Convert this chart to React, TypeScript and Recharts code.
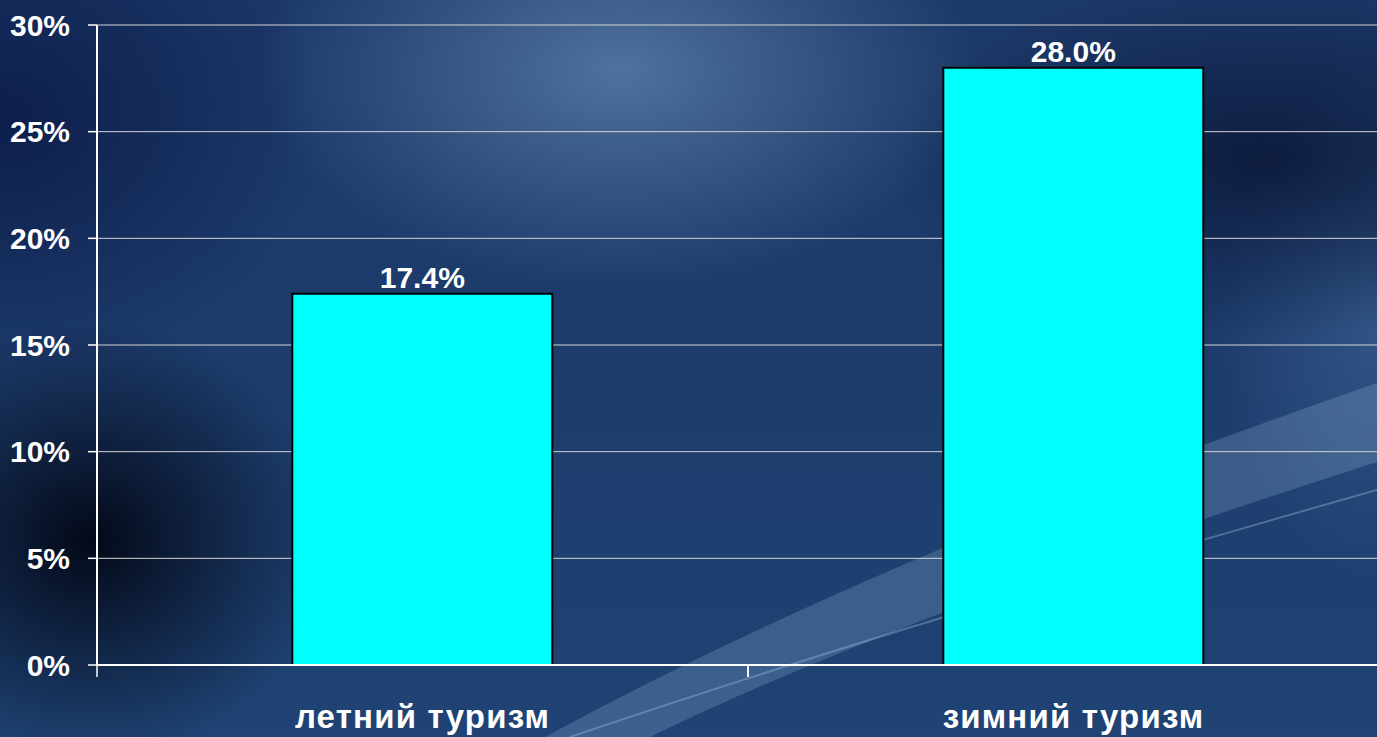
import { BarChart, Bar, XAxis, YAxis, CartesianGrid, LabelList } from 'recharts';

const categories = ['летний туризм', 'зимний туризм'];
const shares = [17.4, 28.0];
const yTicks = [0, 5, 10, 15, 20, 25, 30];

const data = categories.map((name, i) => ({ name, value: shares[i] }));

const FONT = '"Liberation Sans", Arial, sans-serif';
const CHART_W = 1400;
const Y_AXIS_W = 97;
const MARGIN_RIGHT = 1;
const BAND = (CHART_W - Y_AXIS_W - MARGIN_RIGHT) / categories.length;

const background = [
  'radial-gradient(ellipse 360px 220px at 620px 70px, rgba(120,160,200,0.55), rgba(120,160,200,0) 100%)',
  'radial-gradient(ellipse 240px 220px at 90px 540px, rgba(2,6,20,0.95), rgba(2,6,20,0) 100%)',
  'radial-gradient(ellipse 380px 180px at 1270px 160px, rgba(8,18,48,0.75), rgba(8,18,48,0) 100%)',
  'radial-gradient(ellipse 160px 260px at 1377px 320px, rgba(70,110,160,0.5), rgba(70,110,160,0) 100%)',
  'radial-gradient(ellipse 320px 260px at 0px 120px, rgba(10,25,70,0.85), rgba(10,25,70,0) 100%)',
  'linear-gradient(180deg, #1c3868 0%, #1d3c6c 50%, #1f4374 100%)',
].join(', ');

const CategoryTick = ({ x, y, payload }: any) => (
  <g>
    <line x1={x - BAND / 2} y1={y} x2={x - BAND / 2} y2={y + 12} stroke="#ffffff" strokeWidth={1.5} />
    <line x1={x + BAND / 2} y1={y} x2={x + BAND / 2} y2={y + 12} stroke="#ffffff" strokeWidth={1.5} />
    <text x={x} y={y + 63} textAnchor="middle" fill="#ffffff" fontSize={33} fontWeight="bold" fontFamily={FONT} letterSpacing={1.2}>
      {payload.value}
    </text>
  </g>
);

export default function App() {
  return (
    <div style={{ position: 'fixed', left: 0, top: 0, width: 1377, height: 737, overflow: 'hidden', background }}>
      <svg width={1377} height={737} style={{ position: 'absolute', left: 0, top: 0 }}>
        <path d="M 545 737 Q 880 555 1377 383 L 1377 462 Q 900 615 650 737 Z" fill="rgba(170,200,230,0.22)" />
        <path d="M 570 737 Q 900 625 1377 490" fill="none" stroke="rgba(170,200,230,0.35)" strokeWidth={2} />
      </svg>
      <div style={{ position: 'absolute', left: 0, top: 0 }}>
        <BarChart width={CHART_W} height={737} data={data} margin={{ top: 25, right: MARGIN_RIGHT, bottom: 0, left: 0 }} barCategoryGap="30%">
          <CartesianGrid vertical={false} stroke="#d4d4d4" strokeWidth={1} />
          <XAxis dataKey="name" axisLine={{ stroke: '#ffffff', strokeWidth: 2 }} tickLine={false} tickSize={0} tickMargin={0} height={72} tick={<CategoryTick />} interval={0} />
          <YAxis domain={[0, 30]} ticks={yTicks} width={Y_AXIS_W} tickSize={9} tickMargin={18} tickFormatter={(v: number) => `${v}%`} tick={{ fill: '#ffffff', fontSize: 30, fontWeight: 'bold', fontFamily: FONT }} axisLine={{ stroke: '#ffffff', strokeWidth: 2 }} tickLine={{ stroke: '#ffffff', strokeWidth: 1.5 }} />
          <Bar dataKey="value" fill="#00ffff" stroke="#000000" strokeWidth={2} isAnimationActive={false}>
            <LabelList dataKey="value" position="top" offset={6} fill="#ffffff" fontSize={30} fontWeight="bold" fontFamily={FONT} formatter={(v: number) => `${v.toFixed(1)}%`} />
          </Bar>
        </BarChart>
      </div>
    </div>
  );
}
